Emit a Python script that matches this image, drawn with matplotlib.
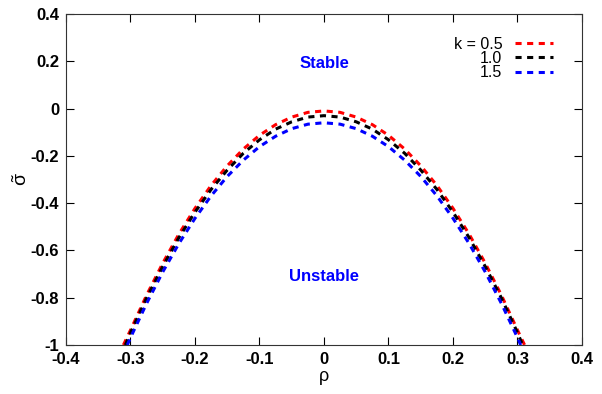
import numpy as np
import matplotlib.pyplot as plt

plt.rcParams['font.family'] = ['Liberation Sans', 'DejaVu Sans']
plt.rcParams['mathtext.fontset'] = 'custom'
plt.rcParams['mathtext.rm'] = 'Liberation Sans'

# rho values (left half, mirrored below)
rho_half = [0.0, 0.025, 0.05, 0.075, 0.1, 0.125, 0.15, 0.175, 0.2, 0.225, 0.25, 0.275, 0.3]
# growth rate (same on both sides)
sig_k05 = [-0.010, -0.016, -0.036, -0.068, -0.113, -0.171, -0.242, -0.325, -0.422, -0.531, -0.654, -0.789, -0.937]
sig_k10 = [-0.030, -0.036, -0.056, -0.087, -0.132, -0.189, -0.260, -0.342, -0.438, -0.546, -0.668, -0.801, -0.948]
sig_k15 = [-0.060, -0.066, -0.085, -0.117, -0.161, -0.218, -0.287, -0.369, -0.464, -0.571, -0.691, -0.824, -0.969]
# where each curve hits sigma = -1
rho_end = [0.311, 0.308, 0.305]

labels = ['k = 0.5', '1.0', '1.5']
colors = ['#ff0000', '#000000', '#0000ff']

fig = plt.figure(figsize=(6.02, 3.94), dpi=100)
ax = fig.add_axes([66/602, 1-345/394, (582-66)/602, (345-14)/394])

for sig, re, lab, col in zip([sig_k05, sig_k10, sig_k15], rho_end, labels, colors):
    r = np.array(rho_half + [re])
    s = np.array(sig + [-1.0])
    x = np.concatenate([-r[::-1], r[1:]])
    y = np.concatenate([s[::-1], s[1:]])
    ax.plot(x, y, color=col, lw=2.2, ls=(0, (2, 1.8)), label=lab)

ax.set_xlim(-0.4, 0.4)
ax.set_ylim(-1, 0.4)
ax.set_xticks(np.arange(-0.4, 0.41, 0.1))
ax.set_yticks(np.arange(-1, 0.41, 0.2))
ax.set_xticklabels(['-0.4', '-0.3', '-0.2', '-0.1', '0', '0.1', '0.2', '0.3', '0.4'])
ax.set_yticklabels(['-1', '-0.8', '-0.6', '-0.4', '-0.2', '0', '0.2', '0.4'])
ax.tick_params(direction='in', top=True, right=True, length=6, labelsize=12, pad=5)
for t in ax.get_xticklabels() + ax.get_yticklabels():
    t.set_fontweight('bold')
for sp in ax.spines.values():
    sp.set_color('#333333')

ax.set_xlabel('ρ', fontsize=13, labelpad=1)
ax.set_ylabel(r'$\tilde{\mathrm{σ}}$', fontsize=14, labelpad=0)

ax.text(0, 0.19, 'Stable', color='#0000ff', fontweight='bold', fontsize=12, ha='center', va='center')
ax.text(0, -0.71, 'Unstable', color='#0000ff', fontweight='bold', fontsize=12, ha='center', va='center')

ax.legend(loc='upper right', bbox_to_anchor=(0.96, 0.955), frameon=False, markerfirst=False,
          fontsize=11.5, handlelength=2.4, handletextpad=0.8, labelspacing=-0.05, borderpad=0)

fig.savefig('out.png', dpi=100)
